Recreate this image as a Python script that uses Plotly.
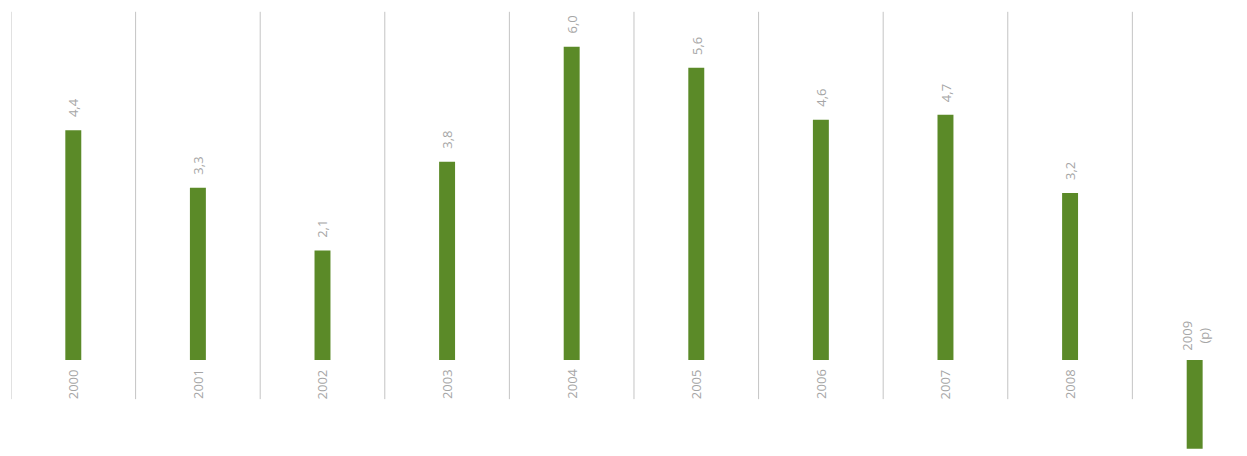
import plotly.graph_objects as go

categories = ["2000", "2001", "2002", "2003", "2004", "2005", "2006", "2007", "2008", "2009<br>(p)"]
values = [4.4, 3.3, 2.1, 3.8, 6.0, 5.6, 4.6, 4.7, 3.2, -1.7]
value_labels = ["4,4", "3,3", "2,1", "3,8", "6,0", "5,6", "4,6", "4,7", "3,2", "-1,7"]

BAR = "#5b8a28"
GRAY = "#a6a6a6"
FONT = "Open Sans"

xs = list(range(len(categories)))
fig = go.Figure(go.Bar(x=xs, y=values, width=0.128, marker=dict(color=BAR, line=dict(width=0)),
                       hoverinfo="skip"))

# category boundary lines
for i in range(len(categories)):
    fig.add_shape(type="line", xref="x", yref="y", x0=i - 0.5, x1=i - 0.5, y0=-0.75, y1=6.67,
                  line=dict(color="#c4c4c4", width=1))

annotations = []
for i, (c, v, t) in enumerate(zip(categories, values, value_labels)):
    if v >= 0:
        annotations.append(dict(x=i, y=v, xref="x", yref="y", text=t, showarrow=False, textangle=-90,
                                yanchor="bottom", xanchor="center", yshift=11,
                                font=dict(family=FONT, size=13, color=GRAY)))
        annotations.append(dict(x=i, y=0, xref="x", yref="y", text=c, showarrow=False, textangle=-90,
                                yanchor="top", xanchor="center", yshift=-7,
                                font=dict(family=FONT, size=13, color=GRAY)))
    else:
        annotations.append(dict(x=i, y=0, xref="x", yref="y", text=c, showarrow=False, textangle=-90,
                                yanchor="bottom", xanchor="center", yshift=7, align="center",
                                font=dict(family=FONT, size=13, color=GRAY)))

fig.update_layout(
    width=1239, height=448,
    margin=dict(l=3, r=0, t=0, b=0),
    paper_bgcolor="white", plot_bgcolor="white",
    showlegend=False,
    annotations=annotations,
    xaxis=dict(range=[-0.5, 9.42], showticklabels=False, showgrid=False, zeroline=False,
               showline=False, ticks=""),
    yaxis=dict(range=[-1.839, 6.743], showticklabels=False, showgrid=False, zeroline=False,
               showline=False, ticks=""),
)

fig.write_html("out.html")
